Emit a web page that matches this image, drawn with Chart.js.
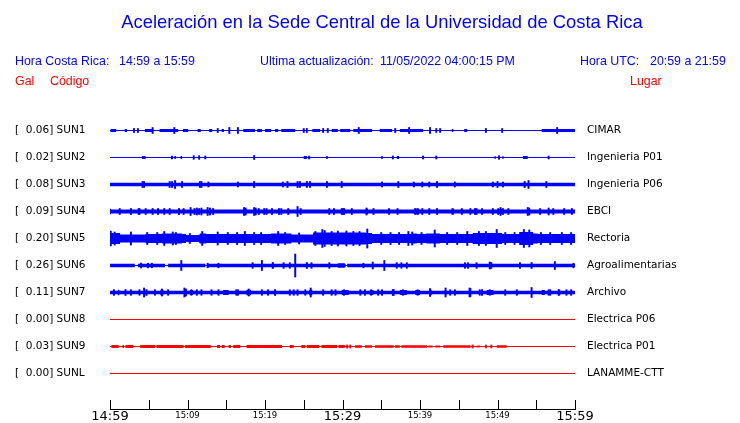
<!DOCTYPE html>
<html>
<head>
<meta charset="utf-8">
<script src="https://cdn.jsdelivr.net/npm/chart.js@4.4.0/dist/chart.umd.min.js"></script>
<style>
  html, body { margin: 0; padding: 0; background: #fff; overflow: hidden; }
  canvas { display: block; }
</style>
</head>
<body>
<canvas id="sismo" width="740" height="423"></canvas>
<script>
// stations, top to bottom
var codes = ['SUN1', 'SUN2', 'SUN3', 'SUN4', 'SUN5', 'SUN6', 'SUN7', 'SUN8', 'SUN9', 'SUNL'];
var places = ['CIMAR', 'Ingenieria P01', 'Ingenieria P06', 'EBCI', 'Rectoria', 'Agroalimentarias',
              'Archivo', 'Electrica P06', 'Electrica P01', 'LANAMME-CTT'];
var peaks = [0.06, 0.02, 0.08, 0.09, 0.20, 0.26, 0.11, 0.00, 0.03, 0.00];

// x axis: minutes after 14:59
var minuteTicks = [0, 10, 20, 30, 40, 50, 60];
var minuteLabels = ['14:59', '15:09', '15:19', '15:29', '15:39', '15:49', '15:59'];
var bigTicks = [0, 30, 60];

// trace amplitude (1 unit ~ 1/27 of a trace slot)
// noise floor of each trace
var baseAmp = [0.5, 0.5, 1.7, 1.9, 4.5, 1.7, 1.8, 0.5, 0.5, 0.5];

// stretches where the noise level changes: [from min, to min, half amplitude]
var segSUN1 = [[0.1,0.8,1.5],[1.9,2.2,1.5],[4.5,5.6,1.5],[6.4,8.8,1.5],[9.4,10.1,1.5],[11.3,11.7,1.5],
  [12.8,13.2,1.5],[14.4,14.7,1.5],[17.2,18.7,1.5],[19.0,19.6,1.5],[20.0,20.8,1.5],[21.3,21.7,1.5],
  [22.1,23.9,1.5],[26.1,27.1,1.5],[28.6,29.4,1.5],[29.7,31.0,1.5],[31.4,33.8,1.5],[34.8,36.4,1.5],
  [37.4,40.4,1.5],[44.1,44.3,1.5],[45.7,46.1,1.5],[55.7,60,1.5]];
var segSUN2 = [[4.1,4.6,1.5],[8.3,8.5,1.5],[9.1,9.3,1.5],[25.0,25.4,1.5],[27.9,28.1,1.5],[35.0,35.2,1.5],
  [37.0,37.3,1.5],[49.6,49.8,1.2],[50.6,50.8,1.2],[53.3,53.9,1.5]];
var segSUN3 = [[18.5,18.7,2.8],[53.4,53.6,2.8]];
var segSUN4 = [[2.7,2.8,2.8],[8.9,9.0,2.8],[17.2,17.6,2.8],[33.0,33.3,2.8],[39.2,39.9,2.8],
  [44.1,44.4,2.8],[50.0,50.7,2.5],[53.8,54.2,2.8]];
var segSUN5 = [[0,1.3,5.5],[1.3,4.6,4],[6.7,9.3,5],[9.8,11.5,3.5],[11.6,12.4,5],[20.8,23.4,5],
  [23.4,26.2,4],[26.2,33.0,6],[33.0,33.8,5.5],[38.8,39.6,5],[40.8,42.6,5],[46.8,50.6,5.5],
  [52.8,54.6,6.5],[54.6,55.2,5]];
var segSUN6 = [[3.2,3.6,0.5],[7.1,7.5,0.5],[12.3,12.6,0.5],[20.9,21.1,2.8],[29.4,30.3,2.3],[30.4,30.6,0.5]];
var segSUN7 = [[0.4,0.6,2.8],[1.0,1.2,2.8],[6.5,6.9,2.8],[10.3,10.7,2.4],[14.6,15.3,2.4],[17.6,18.2,2.8],
  [25.7,26.1,2.8],[29.9,30.8,2.4],[33.5,34.0,2.4],[37.4,38.3,2.4],[39.4,40.0,2.4],[41.2,41.5,2.8],
  [43.2,43.4,2.8],[48.6,49.5,2.4],[55.7,56.1,2.4],[57.8,58.1,2.8]];
var segSUN8 = [];
var segSUN9 = [[0.2,1.1,1.5],[1.6,1.8,1.5],[2.0,3.0,1.5],[3.9,5.8,1.5],[6.0,9.5,1.5],[9.7,13.0,1.5],
  [13.8,14.2,1.5],[14.4,14.8,1.5],[15.3,15.6,1.5],[15.9,16.8,1.5],[17.6,22.2,1.5],[23.2,23.7,1.5],
  [24.7,25.2,1.5],[25.4,27.0,1.5],[27.3,29.3,1.5],[29.5,30.3,1.5],[31.6,32.5,1.2],[32.9,33.8,1.2],
  [34.2,36.6,1.2],[36.8,37.4,1.2],[37.6,40.9,1.2],[41.1,41.6,1],[42.0,42.6,1],[43.0,46.5,1.2],
  [47.3,47.7,1],[49.9,51.2,1.2]];
var segSUNL = [];

// single peaks: [minute, half amplitude]
var spkSUN1 = [[5.5,3],[8.3,3],[15.4,3],[16.5,3],[32.1,3],[38.6,3],[41.3,3],[57.7,3],[3.1,2],[3.6,2],
  [13.9,2],[25.0,2],[25.4,2],[27.5,2],[28.1,2],[36.8,2],[42.1,2],[42.6,2],[48.5,2],[50.6,2]];
var spkSUN2 = [[8.0,1.5],[10.8,1.8],[11.5,1.8],[12.3,1.5],[18.6,2],[25.7,1.5],[36.5,1.5],[40.4,1.5],
  [42.1,1.5],[50.2,1.8],[56.6,1.5]];
var spkSUN3 = [[4.2,3],[4.4,3],[7.7,3],[8.0,3],[8.4,4],[9.3,3],[11.6,3],[11.8,3],[12.7,2.5],[16.5,2.5],
  [18.6,3],[22.3,2.5],[22.9,3],[24.2,3],[24.5,3],[25.4,3],[25.8,3],[28.0,3],[29.9,3],[35.1,2.5],
  [37.2,3],[39.2,2.5],[40.3,2.5],[41.2,2.5],[42.2,3],[44.5,2.5],[49.4,2.5],[50.0,3],[50.7,2.5],
  [53.5,3],[54.0,4],[56.3,3]];
var spkSUN4 = [[0.0,2.5],[1.25,3],[2.7,3],[3.7,3],[3.8,3],[4.6,3],[5.5,3],[6.2,3],[7.0,3],[7.7,3],
  [8.9,3],[9.5,3],[10.4,4],[10.9,3],[11.2,3.5],[11.5,3],[11.8,3.5],[12.6,4],[12.9,3.5],[13.3,3],
  [17.3,4],[17.5,3.5],[18.6,4],[18.8,3.5],[19.2,3],[19.9,3],[20.2,3],[20.9,3],[21.8,3],[22.1,3],
  [23.0,3],[24.2,5],[24.6,3],[28.3,3],[28.9,3],[29.9,3],[30.1,3],[30.2,3],[31.2,3],[33.1,3.5],
  [34.0,3],[36.0,3],[37.1,3],[39.4,3],[39.7,3],[40.3,3],[41.2,3],[42.2,3],[44.2,3],[45.4,3],
  [46.5,3],[47.1,3],[47.3,3],[48.0,3],[49.4,3],[50.1,3],[50.4,4],[50.7,3],[51.4,3],[53.9,4],
  [54.1,3.5],[55.5,3],[56.6,3.5],[57.2,3],[58.6,3],[59.6,3]];
var spkSUN5 = [[0.1,7.5],[0.6,6.5],[2.7,6.5],[4.8,6],[6.1,6],[7.0,7],[8.1,6.5],[8.5,6],[10.3,5],[11.9,7],
  [13.9,6.5],[15.2,6],[16.4,6],[17.4,7],[18.6,6],[19.5,6],[21.7,7],[22.6,6],[24.4,5.5],[26.5,7],
  [27.4,9],[27.7,8],[28.6,7],[29.4,7.5],[30.5,7.5],[31.4,7],[32.2,7],[33.2,9.5],[35.0,6],[36.2,6],
  [37.3,6],[38.5,7],[39.0,6.5],[40.2,6],[41.9,8.5],[43.5,6],[44.8,6],[46.1,7],[47.6,7],[48.5,7],
  [49.9,9],[51.0,6],[52.2,6],[53.4,9],[54.1,8.5],[55.6,6],[56.8,6],[58.3,6],[59.5,6]];
var spkSUN6 = [[4.0,2.3],[4.9,2.3],[5.4,2.3],[9.2,5],[12.6,2.3],[14.0,2.3],[18.4,2.8],[19.6,5],[21.0,3],[22.4,2.8],
  [23.2,2.8],[23.9,11.5],[25.4,3],[26.0,2.8],[28.3,2.8],[32.7,2.3],[33.9,3.5],[35.4,5],[37.0,2.8],
  [37.6,2.8],[38.3,2.8],[45.8,2.8],[46.2,2.8],[47.3,2.8],[49.0,3.5],[49.2,3],[52.9,2.8],[54.4,3],
  [57.4,4],[59.8,2.3]];
var spkSUN7 = [[0.5,2.8],[2.0,3],[2.7,2.8],[3.8,2.8],[4.4,4.5],[4.7,3],[5.8,2.8],[6.7,3.5],[7.5,2.8],
  [9.6,4.5],[9.8,3.5],[10.5,2.8],[11.2,2.8],[11.8,2.8],[13.1,2.8],[14.0,2.8],[16.3,2.8],[16.5,2.8],
  [17.9,3.5],[19.6,2.8],[20.4,2.8],[21.3,3],[23.2,2.8],[23.7,2.8],[24.2,2.8],[25.2,2.8],[25.9,4.5],
  [27.5,2.8],[28.6,2.8],[29.1,2.8],[30.2,2.8],[32.3,2.8],[32.9,2.8],[33.7,2.8],[34.6,2.8],[35.1,2.8],
  [36.5,3],[36.6,3],[37.8,2.8],[39.7,2.8],[41.3,4],[43.3,4.5],[43.9,2.8],[44.5,2.8],[46.4,4.5],
  [46.5,4],[47.7,2.8],[48.0,2.8],[49.0,2.8],[51.0,2.8],[52.5,2.8],[54.4,5],[56.6,2.8],[56.8,2.8],
  [57.9,3],[58.9,2.8],[59.5,2.8]];
var spkSUN8 = [];
var spkSUN9 = [[30.6,1.5],[31.0,1.5],[46.8,1.5],[48.5,1.5],[49.2,1.5]];
var spkSUNL = [];

var segments = [segSUN1, segSUN2, segSUN3, segSUN4, segSUN5, segSUN6, segSUN7, segSUN8, segSUN9, segSUNL];
var spikes = [spkSUN1, spkSUN2, spkSUN3, spkSUN4, spkSUN5, spkSUN6, spkSUN7, spkSUN8, spkSUN9, spkSUNL];

var SLOT = 27;
var BLUE = '#0000ff';
var RED = '#ff0000';

// outline of a trace: noise floor with the louder stretches raised
function envelope(segs, base)
{
    var pts = [[0, base]];
    segs.forEach(function (s) {
        pts.push([s[0], base], [s[0], s[2]], [s[1], s[2]], [s[1], base]);
    });
    pts.push([60, base]);
    return pts;
}

var datasets = [];
codes.forEach(function (code, i) {
    var c = i * SLOT;
    var col = i < 7 ? BLUE : RED;
    var env = envelope(segments[i], baseAmp[i]);
    datasets.push({
        type: 'line',
        data: env.map(function (p) { return { x: p[0], y: c - p[1] }; }),
        borderWidth: 0, borderColor: 'rgba(0,0,0,0)', pointRadius: 0, tension: 0,
        backgroundColor: col, fill: false
    });
    datasets.push({
        type: 'line',
        data: env.map(function (p) { return { x: p[0], y: c + p[1] }; }),
        borderWidth: 0, borderColor: 'rgba(0,0,0,0)', pointRadius: 0, tension: 0,
        backgroundColor: col, fill: '-1'
    });
    datasets.push({
        type: 'bar',
        data: spikes[i].map(function (s) { return { x: s[0], y: [c - s[1], c + s[1]] }; }),
        backgroundColor: col, borderWidth: 0, barThickness: 1.3, grouped: false
    });
});

var headers = {
    id: 'headers',
    afterDraw: function (chart) {
        var ctx = chart.ctx;
        ctx.save();
        ctx.textBaseline = 'alphabetic';
        ctx.fillStyle = BLUE;
        ctx.textAlign = 'center';
        ctx.font = '18.4px "Liberation Sans", Arial, sans-serif';
        ctx.fillText('Aceleración en la Sede Central de la Universidad de Costa Rica', 382, 28);

        ctx.textAlign = 'left';
        ctx.font = '12.4px "Liberation Sans", Arial, sans-serif';
        ctx.fillText('Hora Costa Rica:', 15, 65);
        ctx.fillText('14:59 a 15:59', 119, 65);
        ctx.fillText('Ultima actualización:', 260, 65);
        ctx.fillText('11/05/2022 04:00:15 PM', 380, 65);
        ctx.fillText('Hora UTC:', 580, 65);
        ctx.fillText('20:59 a 21:59', 650, 65);

        ctx.fillStyle = RED;
        ctx.fillText('Gal', 15, 85);
        ctx.fillText('Código', 50, 85);
        ctx.fillText('Lugar', 630, 85);

        // tick marks stand up from the time axis
        var xs = chart.scales.x;
        ctx.strokeStyle = '#000';
        ctx.lineWidth = 1;
        ctx.beginPath();
        xs.ticks.forEach(function (tk, k) {
            var px = Math.round(xs.getPixelForTick(k)) + 0.5;
            ctx.moveTo(px, xs.top);
            ctx.lineTo(px, xs.top - 9);
        });
        ctx.stroke();
        ctx.restore();
    }
};

new Chart(document.getElementById('sismo'), {
    type: 'line',
    data: { datasets: datasets },
    options: {
        animation: false,
        responsive: false,
        devicePixelRatio: 1,
        layout: { padding: { top: 117, left: 15, right: 0, bottom: 0 } },
        plugins: { legend: { display: false }, tooltip: { enabled: false } },
        scales: {
            x: {
                type: 'linear', min: 0, max: 60, offset: false,
                grid: { display: false, drawTicks: false },
                border: { display: true, color: '#000', width: 1 },
                afterFit: function (scale) { scale.height = 14; },
                ticks: {
                    stepSize: 5, autoSkip: false, maxRotation: 0, padding: 0, color: '#000',
                    font: function (ctx) {
                        var big = ctx.tick && bigTicks.indexOf(ctx.tick.value) >= 0;
                        return big ? { family: 'DejaVu Sans', size: 13, lineHeight: 1.1 }
                                   : { family: 'DejaVu Sans', size: 8.5, lineHeight: 1.6 };
                    },
                    callback: function (value) {
                        var k = minuteTicks.indexOf(value);
                        return k >= 0 ? minuteLabels[k] : '';
                    }
                }
            },
            y: {
                type: 'linear', position: 'left', reverse: true, min: -13.5, max: 278.5,
                grid: { display: false, drawTicks: false },
                border: { display: false },
                afterFit: function (scale) { scale.width = 95; },
                afterBuildTicks: function (scale) {
                    scale.ticks = codes.map(function (c, i) { return { value: i * SLOT }; });
                },
                ticks: {
                    crossAlign: 'far', padding: 0, color: '#000', autoSkip: false,
                    font: { family: 'DejaVu Sans', size: 10.5 },
                    callback: function (value, index) {
                        return '[  ' + peaks[index].toFixed(2) + '] ' + codes[index];
                    }
                }
            },
            y2: {
                type: 'linear', position: 'right', reverse: true, min: -13.5, max: 278.5,
                // invisible tick marks keep the place names 12px off the plot
                grid: { display: false, drawTicks: true, tickLength: 12 },
                border: { display: false },
                afterFit: function (scale) { scale.width = 165; },
                afterBuildTicks: function (scale) {
                    scale.ticks = places.map(function (p, i) { return { value: i * SLOT }; });
                },
                ticks: {
                    padding: 0, color: '#000', autoSkip: false,
                    font: { family: 'DejaVu Sans', size: 10.5 },
                    callback: function (value, index) { return places[index]; }
                }
            }
        }
    },
    plugins: [headers]
});
</script>
</body>
</html>
